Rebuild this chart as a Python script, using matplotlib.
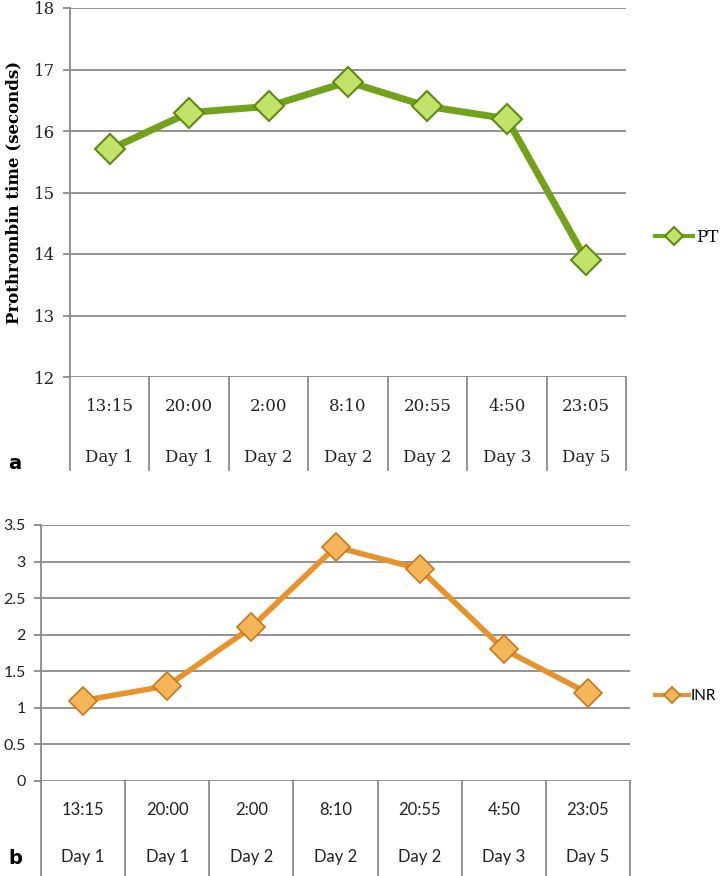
import matplotlib.pyplot as plt

times = ['13:15', '20:00', '2:00', '8:10', '20:55', '4:50', '23:05']
days = ['Day 1', 'Day 1', 'Day 2', 'Day 2', 'Day 2', 'Day 3', 'Day 5']
pt = [15.7, 16.3, 16.4, 16.8, 16.4, 16.2, 13.9]
inr = [1.1, 1.3, 2.1, 3.2, 2.9, 1.8, 1.2]

W, H = 722, 876
fig = plt.figure(figsize=(W / 100, H / 100), dpi=100)


def px_axes(left, top, right, bottom):
    return fig.add_axes([left / W, 1 - bottom / H, (right - left) / W, (bottom - top) / H])


def draw_table(ax, y_time, y_day, y_bottom, font, size):
    n = len(times)
    tr = ax.get_xaxis_transform()
    for i in range(n + 1):
        ax.plot([i - 0.5, i - 0.5], [0, y_bottom], transform=tr, color='#8a8a8a',
                lw=1.3, clip_on=False)
    for i in range(n):
        ax.text(i, y_time, times[i], transform=tr, ha='center', va='center',
                family=font, fontsize=size, color='#222222')
        ax.text(i, y_day, days[i], transform=tr, ha='center', va='center',
                family=font, fontsize=size, color='#222222')


def style(ax, ylim, yticks, font, size):
    ax.set_xlim(-0.5, len(times) - 0.5)
    ax.set_ylim(*ylim)
    ax.set_yticks(yticks)
    ax.set_xticks([])
    for s in ['top', 'right', 'bottom']:
        ax.spines[s].set_visible(False)
    ax.spines['left'].set_color('#8a8a8a')
    ax.spines['left'].set_linewidth(1.3)
    ax.yaxis.grid(True, color='#8a8a8a', lw=1.3)
    ax.set_axisbelow(True)
    ax.tick_params(axis='y', length=5, width=1.3, color='#8a8a8a', pad=6,
                   labelsize=size)
    for t in ax.get_yticklabels():
        t.set_family(font)
        t.set_color('#222222')


def add_legend(ax, x0, yc, font, size, lw, ms, hl):
    leg = ax.legend(loc='center left', bbox_to_anchor=(x0 / W, 1 - yc / H),
                    bbox_transform=fig.transFigure, frameon=False, handlelength=hl,
                    handletextpad=0.15, borderpad=0, borderaxespad=0,
                    prop={'family': font, 'size': size})
    for h in leg.legend_handles:
        h.set_linewidth(lw)
        h.set_markersize(ms)
    return leg


# panel a
ax1 = px_axes(70, 8, 626, 377)
x = list(range(len(times)))
ax1.plot(x, pt, color='#72a21a', lw=5, marker='D', markersize=15,
         markerfacecolor='#c2e36a', markeredgecolor='#5f8a14', markeredgewidth=1.5,
         label='PT', zorder=3)
style(ax1, (12, 18), range(12, 19), 'DejaVu Serif', 12)
ax1.set_ylabel('Prothrombin time (seconds)', family='DejaVu Serif', fontweight='bold',
               fontsize=12, labelpad=8)
draw_table(ax1, -0.081, -0.217, -0.252, 'DejaVu Serif', 12)
add_legend(ax1, 655, 237, 'DejaVu Serif', 12, 3, 9, 2.3)
fig.text(8 / W, 1 - 463 / H, 'a', fontsize=14, fontweight='bold', va='center',
         family='DejaVu Sans')

# panel b
ax2 = px_axes(41, 525, 630, 781)
ax2.plot(x, inr, color='#e8922a', lw=4, marker='D', markersize=14,
         markerfacecolor='#f5b65a', markeredgecolor='#c9761a', markeredgewidth=1.2,
         label='INR', zorder=3)
style(ax2, (0, 3.5), [0, 0.5, 1, 1.5, 2, 2.5, 3, 3.5], 'Lato', 11.5)
ax2.set_yticklabels(['0', '0.5', '1', '1.5', '2', '2.5', '3', '3.5'])
for t in ax2.get_yticklabels():
    t.set_family('Lato')
draw_table(ax2, -0.113, -0.297, -0.371, 'Lato', 12)
add_legend(ax2, 655, 696, 'Lato', 11, 3, 8, 2.2)
fig.text(8 / W, 1 - 858 / H, 'b', fontsize=14, fontweight='bold', va='center',
         family='DejaVu Sans')

fig.savefig('out.png', dpi=100)
